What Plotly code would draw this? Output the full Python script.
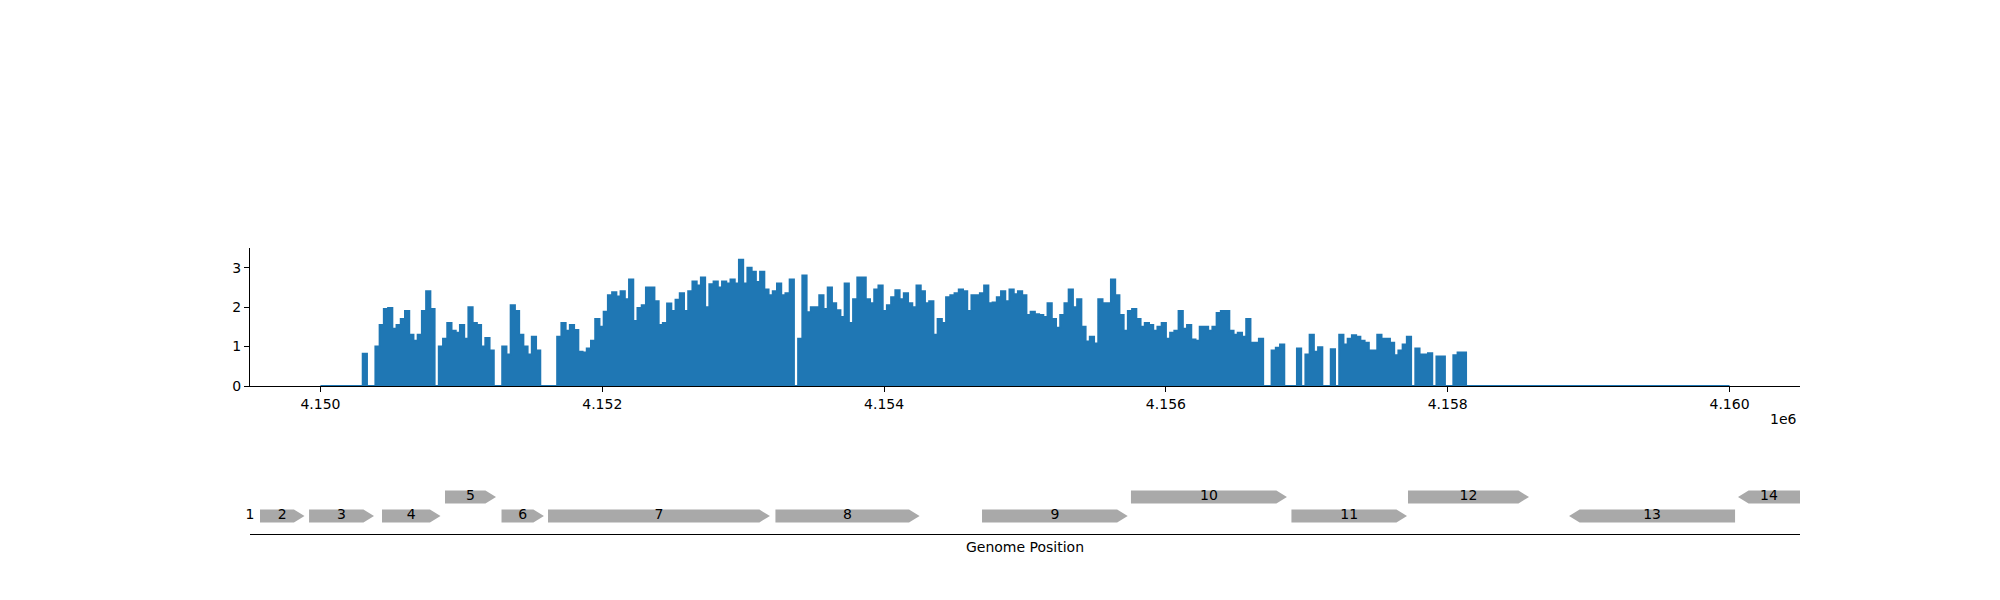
import plotly.graph_objects as go

# Couverture, par fenêtres de 30 pb à partir de cov_start
cov_start = 4150300
bin_size = 30
coverage = [
    0.82, 0, 0, 1.0, 1.55, 1.95, 1.98, 1.45, 1.55, 1.7,
    1.9, 1.3, 1.15, 1.3, 1.9, 2.4, 1.95, 0, 1.0, 1.2,
    1.6, 1.4, 1.35, 1.55, 1.2, 2.0, 1.6, 1.55, 1.0, 1.22,
    0.9, 0, 0, 1.0, 0.8, 2.05, 1.9, 1.3, 1.0, 0.8,
    1.25, 0.9, 0, 0, 0, 0, 1.25, 1.6, 1.4, 1.55,
    1.42, 0.87, 0.85, 0.95, 1.15, 1.7, 1.5, 1.88, 2.3, 2.38,
    2.27, 2.4, 2.2, 2.7, 1.65, 1.98, 2.05, 2.5, 2.5, 2.15,
    1.55, 1.6, 2.09, 1.9, 2.19, 2.35, 1.9, 2.4, 2.65, 2.55,
    2.75, 2.0, 2.58, 2.65, 2.5, 2.65, 2.6, 2.7, 2.6, 3.2,
    2.6, 3.0, 2.9, 2.64, 2.9, 2.45, 2.3, 2.4, 2.6, 2.3,
    2.35, 2.7, 0, 1.2, 2.8, 1.87, 2.0, 2.0, 2.3, 1.95,
    2.5, 2.1, 1.92, 1.75, 2.6, 1.6, 2.2, 2.75, 2.75, 2.2,
    2.1, 2.45, 2.55, 1.9, 2.05, 2.25, 2.43, 2.2, 2.35, 2.1,
    2.0, 2.55, 2.4, 2.1, 2.15, 1.3, 1.7, 1.6, 2.25, 2.3,
    2.35, 2.45, 2.4, 1.9, 2.3, 2.3, 2.35, 2.55, 2.1, 2.12,
    2.25, 2.4, 2.15, 2.45, 2.33, 2.4, 2.3, 1.8, 1.88, 1.82,
    1.8, 1.75, 2.1, 1.7, 1.48, 1.8, 2.1, 2.45, 2.0, 2.2,
    1.5, 1.13, 1.25, 1.08, 2.2, 2.1, 2.1, 2.7, 2.3, 1.8,
    1.4, 1.9, 1.95, 1.7, 1.5, 1.6, 1.55, 1.4, 1.5, 1.6,
    1.2, 1.35, 1.4, 1.9, 1.45, 1.55, 1.18, 1.15, 1.5, 1.5,
    1.4, 1.5, 1.85, 1.9, 1.9, 1.4, 1.3, 1.35, 1.25, 1.7,
    1.1, 1.1, 1.2, 0, 0, 0.9, 0.97, 1.05, 0, 0,
    0, 0.95, 0, 0.8, 1.3, 0.87, 0.98, 0, 0, 0.93,
    0, 1.3, 1.05, 1.2, 1.29, 1.25, 1.15, 1.1, 0.9, 0.9,
    1.3, 1.2, 1.2, 1.1, 0.78, 0.9, 1.05, 1.25, 0, 0.95,
    0.8, 0.8, 0.83, 0, 0.75, 0.75, 0, 0, 0.78, 0.85,
    0.85,
]

# Étendue de la piste (zéros autour de la région couverte)
track_start = 4150000
track_end = 4160000

# Gènes annotés
gene_labels = ['1', '2', '3', '4', '5', '6', '7', '8', '9', '10', '11', '12', '13', '14']
gene_starts = [4149100, 4149571, 4149919, 4150437, 4150884, 4151285, 4151615,
               4153229, 4154695, 4155752, 4156891, 4157718, 4158861, 4160060]
gene_ends = [4149480, 4149887, 4150380, 4150852, 4151246, 4151586, 4153190,
             4154252, 4155729, 4156859, 4157711, 4158577, 4160039, 4160900]
gene_strands = [1, 1, 1, 1, 1, 1, 1, 1, 1, 1, 1, 1, -1, -1]
gene_rows = [0, 0, 0, 0, 1, 0, 0, 0, 0, 1, 0, 1, 0, 1]

x_ticks = [4150000, 4152000, 4154000, 4156000, 4158000, 4160000]
x_tick_labels = ['4.150', '4.152', '4.154', '4.156', '4.158', '4.160']
y_ticks = [0, 1, 2, 3]

x_min, x_max = 4149500, 4160500
blue = '#1f77b4'
grey = '#a9a9a9'
police = dict(family='DejaVu Sans', size=14, color='black')

# la page ajoute 8 px de marge autour du graphique : domaines compensés
x_dom = [0.121, 0.896]

fig = go.Figure()

# Piste de couverture
xs = [track_start] + [cov_start + i * bin_size for i in range(len(coverage))]
xs += [cov_start + len(coverage) * bin_size, track_end]
ys = [0] + coverage + [0, 0]
fig.add_trace(go.Scatter(
    x=xs, y=ys, mode='lines', line=dict(color=blue, width=2, shape='hv'),
    fill='tozeroy', fillcolor=blue, xaxis='x', yaxis='y', showlegend=False
))

# Flèches des gènes
row_y = [18, 37]
half_h = 6.4
head = 75
lab_x, lab_y = [], []
for s, e, strand, row in zip(gene_starts, gene_ends, gene_strands, gene_rows):
    y0 = row_y[row]
    hl = min(head, e - s)
    if strand > 0:
        px = [s, e - hl, e, e - hl, s, s]
    else:
        px = [e, s + hl, s, s + hl, e, e]
    py = [y0 - half_h, y0 - half_h, y0, y0 + half_h, y0 + half_h, y0 - half_h]
    fig.add_trace(go.Scatter(
        x=px, y=py, mode='lines', fill='toself', fillcolor=grey,
        line=dict(width=0, color=grey), xaxis='x2', yaxis='y2',
        showlegend=False, hoverinfo='skip'
    ))
    # étiquette centrée sur la partie visible, ramenée dans les limites
    vs, ve = max(s, x_min), min(e, x_max)
    lab_x.append(min(max((vs + ve) / 2, x_min), x_max))
    lab_y.append(y0)

fig.add_trace(go.Scatter(
    x=lab_x, y=lab_y, mode='text', text=gene_labels, textfont=police,
    textposition='middle center', cliponaxis=False, xaxis='x2', yaxis='y2',
    showlegend=False
))

fig.update_layout(
    width=2000, height=600,
    margin=dict(l=0, r=0, t=0, b=0),
    plot_bgcolor='white', paper_bgcolor='white',
    font=police,
    xaxis=dict(domain=x_dom, range=[x_min, x_max], anchor='y',
               tickvals=x_ticks, ticktext=x_tick_labels,
               ticks='outside', ticklen=5, tickwidth=1.1, tickcolor='black',
               showline=True, linecolor='black', linewidth=1.1,
               showgrid=False, zeroline=False, automargin=False),
    yaxis=dict(domain=[0.37, 0.6], range=[0, 3.5], anchor='x',
               tickvals=y_ticks, ticks='outside', ticklen=5, tickwidth=1.1,
               tickcolor='black', showline=True, linecolor='black', linewidth=1.1,
               showgrid=False, zeroline=False, automargin=False),
    xaxis2=dict(domain=x_dom, range=[x_min, x_max], anchor='y2',
                showticklabels=False, ticks='', showline=True, linecolor='black',
                linewidth=1.1, showgrid=False, zeroline=False, automargin=False,
                title=dict(text='Genome Position', font=police, standoff=8)),
    yaxis2=dict(domain=[0.1233, 0.2367], range=[0, 68], anchor='x2', visible=False),
)

# Facteur d'échelle de l'axe x, comme matplotlib
fig.add_annotation(text='1e6', x=0.8955, y=0.315, xref='paper', yref='paper',
                   xanchor='right', yanchor='middle', showarrow=False, font=police)

fig.write_html("out.html")
